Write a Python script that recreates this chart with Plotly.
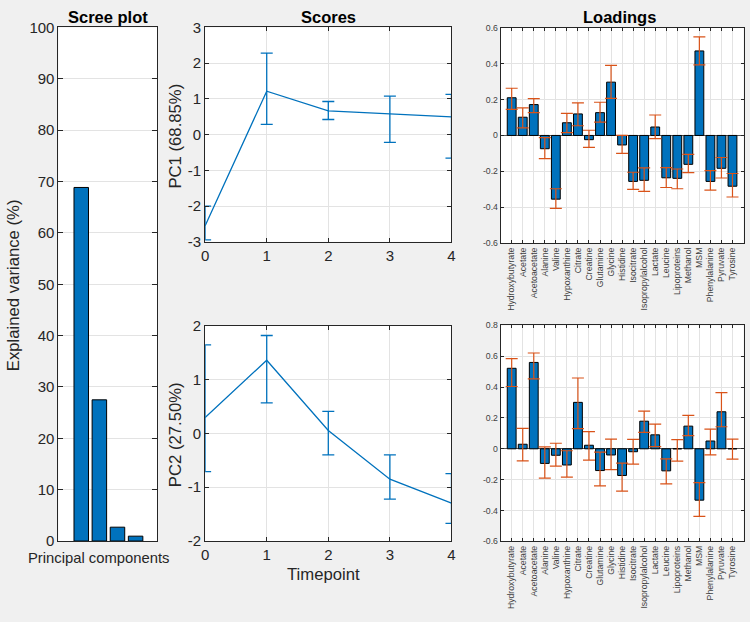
import plotly.graph_objects as go

# ---------------- data ----------------
components = [1, 2, 3, 4]
explained = [68.85, 27.50, 2.70, 0.95]

timepoints = [0, 1, 2, 3, 4]
pc1_mean = [-2.55, 1.216, 0.667, 0.585, 0.495]
pc1_upper = [-2.00, 2.28, 0.928, 1.08, 1.126]
pc1_lower = [-2.95, 0.288, 0.423, -0.216, -0.658]
pc2_mean = [0.295, 1.36, 0.054, -0.85, -1.295]
pc2_upper = [1.645, 1.82, 0.41, -0.40, -0.747]
pc2_lower = [-0.71, 0.566, -0.40, -1.22, -1.67]

metabolites = ["Hydroxybutyrate", "Acetate", "Acetoacetate", "Alanine", "Valine",
               "Hypoxanthine", "Citrate", "Creatine", "Glutamine", "Glycine",
               "Histidine", "Isocitrate", "Isopropylalcohol", "Lactate", "Leucine",
               "Lipoproteins", "Methanol", "MSM", "Phenylalanine", "Pyruvate", "Tyrosine"]
load1 = [0.210, 0.1015, 0.172, -0.074, -0.355, 0.0707, 0.120, -0.0236, 0.127, 0.297,
         -0.053, -0.256, -0.250, 0.047, -0.236, -0.239, -0.161, 0.471, -0.256, -0.183, -0.283]
load1_upper = [0.263, 0.154, 0.205, -0.0127, -0.297, 0.123, 0.181, 0.029, 0.185, 0.391,
               0.0, -0.205, -0.181, 0.114, -0.179, -0.187, -0.105, 0.549, -0.196, -0.123, -0.212]
load1_lower = [0.145, 0.042, 0.127, -0.129, -0.406, 0.016, 0.054, -0.067, 0.074, 0.207,
               -0.100, -0.301, -0.312, -0.018, -0.290, -0.297, -0.207, 0.393, -0.305, -0.237, -0.343]
load2 = [0.522, 0.0295, 0.560, -0.0947, -0.042, -0.105, 0.301, 0.023, -0.141, -0.040,
         -0.173, -0.019, 0.179, 0.0905, -0.143, 0.0, 0.147, -0.333, 0.0505, 0.240, 0.0]
load2_upper = [0.585, 0.133, 0.621, 0.0126, 0.036, -0.0126, 0.459, 0.112, -0.021, 0.063,
               -0.093, 0.061, 0.244, 0.160, -0.065, 0.059, 0.217, -0.219, 0.128, 0.364, 0.063]
load2_lower = [0.404, -0.078, 0.453, -0.190, -0.112, -0.183, 0.131, -0.074, -0.240, -0.135,
               -0.274, -0.099, 0.107, 0.0147, -0.227, -0.080, 0.086, -0.438, -0.040, 0.143, -0.067]

scree_yticks = [0, 10, 20, 30, 40, 50, 60, 70, 80, 90, 100]
pc1_yticks = [-3, -2, -1, 0, 1, 2, 3]
pc2_yticks = [-2, -1, 0, 1, 2]
load1_yticks = [-0.6, -0.4, -0.2, 0, 0.2, 0.4, 0.6]
load2_yticks = [-0.6, -0.4, -0.2, 0, 0.2, 0.4, 0.6, 0.8]


def lab(v):
    return "%g" % v


# ---------------- styling ----------------
W, H = 750, 622
FONT = "Liberation Sans, Arial, Helvetica, sans-serif"
AXC = "#262626"
LOADC = "#404040"
GRID = "#e3e3e3"
BLUE = "#0072BD"
ORANGE = "#D95319"
BG = "#f0f0f0"


def xd(a, b):
    return [a / W, b / W]


def yd(top, bottom):
    return [1 - bottom / H, 1 - top / H]


def px(x):
    return x / W


def py(y):
    return 1 - y / H


fig = go.Figure()

# Scree
fig.add_trace(go.Bar(x=components, y=explained, width=0.8,
                     marker=dict(color=BLUE, line=dict(color="black", width=1)),
                     xaxis="x", yaxis="y", hoverinfo="skip"))

# Scores
for mean, up, lo, xa, ya in [(pc1_mean, pc1_upper, pc1_lower, "x2", "y2"),
                             (pc2_mean, pc2_upper, pc2_lower, "x3", "y3")]:
    fig.add_trace(go.Scatter(
        x=timepoints, y=mean, mode="lines", line=dict(color=BLUE, width=1.3),
        error_y=dict(type="data", symmetric=False,
                     array=[u - m for u, m in zip(up, mean)],
                     arrayminus=[m - l for m, l in zip(mean, lo)],
                     color=BLUE, thickness=1.3, width=6),
        xaxis=xa, yaxis=ya, hoverinfo="skip"))

# Loadings
cat_x = list(range(1, len(metabolites) + 1))
for vals, up, lo, xa, ya in [(load1, load1_upper, load1_lower, "x4", "y4"),
                             (load2, load2_upper, load2_lower, "x5", "y5")]:
    fig.add_trace(go.Bar(
        x=cat_x, y=vals, width=0.8,
        marker=dict(color=BLUE, line=dict(color="black", width=1)),
        error_y=dict(type="data", symmetric=False,
                     array=[u - v for u, v in zip(up, vals)],
                     arrayminus=[v - l for v, l in zip(vals, lo)],
                     color=ORANGE, thickness=1.2, width=6),
        xaxis=xa, yaxis=ya, hoverinfo="skip"))

common = dict(showline=True, linecolor=AXC, linewidth=1, mirror="ticks", ticks="inside",
              tickcolor=AXC, tickfont=dict(family=FONT, color=AXC), gridcolor=GRID,
              zeroline=False, fixedrange=True)

layout = dict(
    width=W, height=H, autosize=False, showlegend=False,
    margin=dict(l=0, r=0, t=0, b=0, pad=0),
    paper_bgcolor=BG, plot_bgcolor="white",
    font=dict(family=FONT, color=AXC),
    xaxis=dict(common, domain=xd(55, 155), range=[-0.26, 5.2], showticklabels=False,
               ticks="", showgrid=False, anchor="y"),
    yaxis=dict(common, domain=yd(19, 547), range=[0, 100], tickvals=scree_yticks,
               ticktext=[lab(v) for v in scree_yticks], ticklen=5, showgrid=True,
               tickfont=dict(family=FONT, color=AXC, size=15), anchor="x"),
    xaxis2=dict(common, domain=xd(203.3, 452.3), range=[0, 4], tickvals=timepoints,
                ticktext=[lab(v) for v in timepoints], ticklen=4, showgrid=True,
                tickfont=dict(family=FONT, color=AXC, size=15), anchor="y2"),
    yaxis2=dict(common, domain=yd(19, 239.3), range=[-3, 3], tickvals=pc1_yticks,
                ticktext=[lab(v) for v in pc1_yticks], ticklen=4, showgrid=True,
                tickfont=dict(family=FONT, color=AXC, size=15), anchor="x2"),
    xaxis3=dict(common, domain=xd(203.3, 452.3), range=[0, 4], tickvals=timepoints,
                ticktext=[lab(v) for v in timepoints], ticklen=4, showgrid=True,
                tickfont=dict(family=FONT, color=AXC, size=15), anchor="y3"),
    yaxis3=dict(common, domain=yd(325.7, 547), range=[-2, 2], tickvals=pc2_yticks,
                ticktext=[lab(v) for v in pc2_yticks], ticklen=4, showgrid=True,
                tickfont=dict(family=FONT, color=AXC, size=15), anchor="x3"),
    xaxis4=dict(common, domain=xd(502, 747.5), range=[0, 22], tickvals=cat_x,
                ticktext=metabolites, tickangle=-90, ticklen=3, showgrid=True,
                tickfont=dict(family=FONT, color=LOADC, size=8.7), anchor="y4"),
    yaxis4=dict(common, domain=yd(19.3, 240.7), range=[-0.6, 0.6], tickvals=load1_yticks,
                ticktext=[lab(v) for v in load1_yticks], ticklen=3, showgrid=True,
                zeroline=True, zerolinecolor="#555555", zerolinewidth=1,
                tickfont=dict(family=FONT, color=LOADC, size=8.7), anchor="x4"),
    xaxis5=dict(common, domain=xd(502, 747.5), range=[0, 22], tickvals=cat_x,
                ticktext=metabolites, tickangle=-90, ticklen=3, showgrid=True,
                tickfont=dict(family=FONT, color=LOADC, size=8.7), anchor="y5"),
    yaxis5=dict(common, domain=yd(325.3, 547.3), range=[-0.6, 0.8], tickvals=load2_yticks,
                ticktext=[lab(v) for v in load2_yticks], ticklen=3, showgrid=True,
                zeroline=True, zerolinecolor="#555555", zerolinewidth=1,
                tickfont=dict(family=FONT, color=LOADC, size=8.7), anchor="x5"),
)
fig.update_layout(**layout)

ann = []


def add_text(text, x, y, size, angle=0, color=AXC):
    ann.append(dict(text=text, x=px(x), y=py(y), xref="paper", yref="paper",
                    showarrow=False, textangle=angle, xanchor="center", yanchor="middle",
                    font=dict(family=FONT, size=size, color=color)))


add_text("<b>Scree plot</b>", 105, 8, 16.5, color="black")
add_text("<b>Scores</b>", 327.5, 8, 16.5, color="black")
add_text("<b>Loadings</b>", 622, 8, 16.5, color="black")
add_text("Explained variance (%)", 9, 284, 16.7, angle=-90)
add_text("PC1 (68.85%)", 173, 131, 16.7, angle=-90)
add_text("PC2 (27.50%)", 173, 438, 16.7, angle=-90)
add_text("Principal components", 96, 564, 14.8)
add_text("Timepoint", 323, 581, 16.7)
fig.update_layout(annotations=ann)

fig.write_html(
    "out.html",
    config=dict(displayModeBar=False, staticPlot=True),
    post_script="document.body.style.margin='0';document.body.style.padding='0';"
                "document.body.style.background='%s';" % BG,
)
